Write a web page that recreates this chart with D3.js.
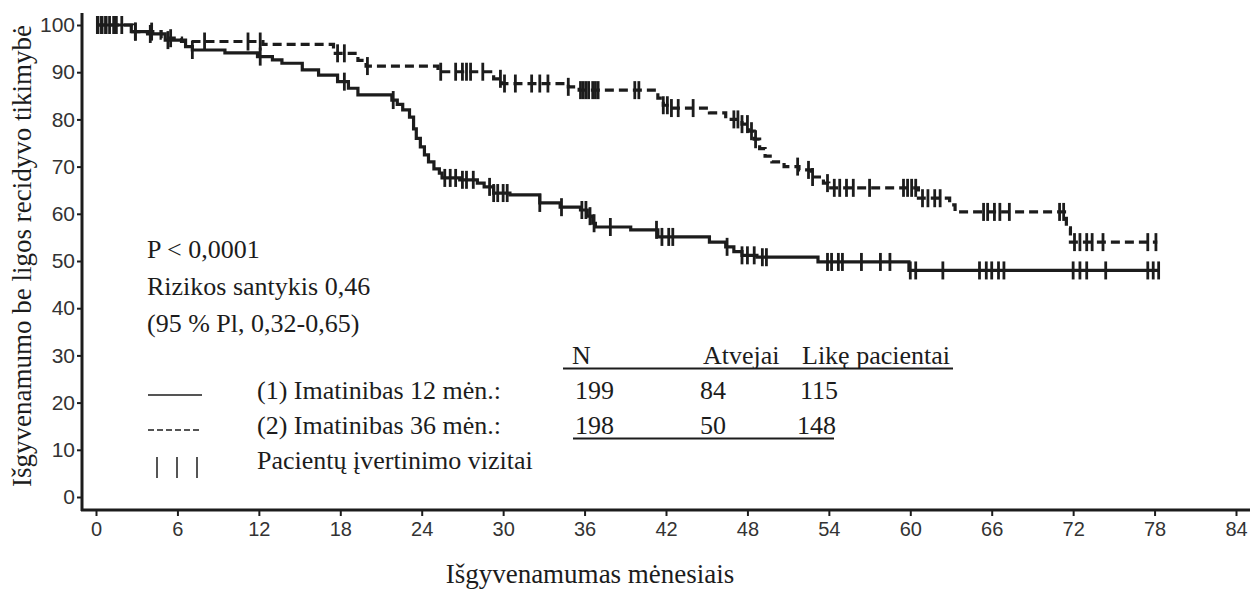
<!DOCTYPE html>
<html>
<head>
<meta charset="utf-8">
<script src="https://cdn.jsdelivr.net/npm/d3@7"></script>
<style>
  body { margin: 0; background: #fff; }
  svg { display: block; }
</style>
</head>
<body>
<svg id="chart" width="1252" height="591"></svg>
<script>
// step points [month, survival %]
var arm12Steps = [
  [0, 100], [2.6, 98.6], [3.8, 98.1], [5.1, 96.8], [6.6, 95.4], [7.1, 94.7], [9.5, 94.1],
  [11.9, 93.3], [13.0, 92.6], [13.7, 91.9], [15.2, 90.5], [16.4, 89.4], [17.8, 88.0],
  [18.6, 86.6], [19.3, 85.2], [21.8, 84.1], [22.2, 83.2], [22.6, 82.0], [23.1, 80.5],
  [23.4, 78.0], [23.6, 76.0], [23.9, 74.2], [24.2, 72.5], [24.5, 71.0], [24.9, 69.5],
  [25.3, 68.6], [25.5, 67.6], [26.8, 67.2], [28.1, 66.5], [28.6, 65.7], [29.3, 64.4],
  [30.5, 64.0], [32.7, 62.3], [34.2, 61.4], [35.7, 60.8], [36.2, 59.5], [36.6, 58.0],
  [36.8, 57.2], [39.4, 56.6], [41.4, 55.1], [45.2, 54.0], [46.4, 53.0], [47.0, 52.0],
  [47.6, 51.2], [48.7, 50.8], [53.2, 49.8], [59.9, 48.0], [78.4, 48.0]
];
var arm36Steps = [
  [0, 100], [2.7, 98.6], [4.8, 97.2], [6.3, 96.5], [12.3, 95.9], [17.5, 94.0], [19.3, 92.5],
  [19.9, 91.3], [25.2, 90.1], [29.3, 88.6], [29.9, 87.6], [34.8, 86.9], [35.6, 86.2],
  [41.4, 84.5], [41.8, 83.0], [42.3, 82.4], [45.2, 81.4], [46.4, 80.0], [47.6, 79.0],
  [48.1, 77.5], [48.5, 75.8], [48.9, 73.8], [49.3, 72.2], [49.8, 71.0], [50.7, 70.0],
  [51.8, 69.3], [52.7, 67.8], [53.6, 66.5], [54.0, 65.5], [60.6, 63.3], [62.9, 61.9],
  [63.3, 60.4], [71.5, 57.0], [71.8, 54.0], [78.2, 54.0]
];

// censored patients (visit marks), months
var arm12Censor = [0.1, 0.4, 0.7, 1.0, 1.3, 2.9, 4.0, 5.3, 7.1, 12.1, 18.3, 21.9, 25.7, 26.1,
  26.5, 27.0, 27.3, 27.8, 29.0, 29.3, 29.6, 30.0, 30.3, 32.7, 34.3, 35.8, 36.1, 36.4, 36.7,
  37.9, 41.3, 41.7, 42.2, 42.5, 46.5, 47.6, 48.0, 48.5, 49.1, 49.4, 53.9, 54.2, 54.7, 55.0,
  56.4, 57.8, 58.5, 60.0, 60.4, 62.4, 65.1, 65.6, 66.0, 66.5, 66.9, 72.0, 72.5, 73.0, 74.4,
  77.5, 77.9, 78.3];
var arm36Censor = [0.15, 0.45, 0.75, 1.5, 1.9, 2.9, 4.1, 5.5, 8.0, 11.2, 12.1, 17.8, 18.3,
  20.0, 25.4, 26.5, 27.0, 27.3, 27.6, 28.5, 29.8, 30.1, 30.9, 32.1, 32.7, 33.3, 34.8, 35.7,
  35.9, 36.1, 36.3, 36.6, 36.8, 37.0, 39.7, 40.0, 41.8, 42.1, 42.4, 42.9, 44.0, 47.0, 47.3,
  47.6, 48.0, 48.3, 48.6, 51.7, 52.5, 52.8, 53.9, 54.4, 54.8, 55.3, 55.8, 57.0, 59.5, 59.8,
  60.1, 60.4, 60.9, 61.3, 61.8, 62.2, 65.4, 65.7, 66.2, 66.6, 67.3, 71.0, 71.3, 72.1, 72.5,
  73.0, 73.4, 74.2, 77.5, 78.1];

var xTicks = [0, 6, 12, 18, 24, 30, 36, 42, 48, 54, 60, 66, 72, 78, 84];
var yTicks = [0, 10, 20, 30, 40, 50, 60, 70, 80, 90, 100];

var statsLines = ["P < 0,0001", "Rizikos santykis 0,46", "(95 % Pl, 0,32-0,65)"];
var tableHead = ["N", "Atvejai", "Likę pacientai"];
var tableRows = [
  { label: "(1) Imatinibas 12 mėn.:", vals: ["199", "84", "115"] },
  { label: "(2) Imatinibas 36 mėn.:", vals: ["198", "50", "148"] }
];

var ink = "#1c1c1c";
var serif = "'Liberation Serif', 'Times New Roman', serif";
var sans = "'Liberation Sans', Arial, sans-serif";

var svg = d3.select("#chart");
var x = d3.scaleLinear().domain([0, 84]).range([96, 1236]);
var y = d3.scaleLinear().domain([0, 100]).range([497, 25]);

function serifText(sel, size) {
  return sel.style("font-family", serif).style("font-size", size + "px").attr("fill", ink);
}

// axes
var xAxis = svg.append("g").attr("transform", "translate(0,510)")
  .call(d3.axisBottom(x).tickValues(xTicks).tickSize(6).tickPadding(6).tickSizeOuter(0));
var yAxis = svg.append("g").attr("transform", "translate(82,0)")
  .call(d3.axisLeft(y).tickValues(yTicks).tickSize(5).tickPadding(2).tickSizeOuter(0));
[xAxis, yAxis].forEach(function(g) {
  g.select(".domain").remove();
  g.selectAll(".tick line").attr("stroke", ink).attr("stroke-width", 2);
  g.selectAll(".tick text").attr("fill", "#333").style("font-family", sans);
});
xAxis.selectAll(".tick text").style("font-size", "20px");
yAxis.selectAll(".tick text").style("font-size", "21px");
svg.append("line").attr("x1", 82).attr("x2", 82).attr("y1", 13).attr("y2", 511)
  .attr("stroke", ink).attr("stroke-width", 3);
svg.append("line").attr("x1", 81).attr("x2", 1250).attr("y1", 510).attr("y2", 510)
  .attr("stroke", ink).attr("stroke-width", 3);

// axis titles
serifText(svg.append("text"), 27).attr("transform", "translate(22,256) rotate(-90)")
  .attr("text-anchor", "middle").attr("dominant-baseline", "central")
  .text("Išgyvenamumo be ligos recidyvo tikimybė");
serifText(svg.append("text"), 27).attr("x", 590).attr("y", 583).attr("text-anchor", "middle")
  .text("Išgyvenamumas mėnesiais");

// curves
var line = d3.line().x(function(d) { return x(d[0]); }).y(function(d) { return y(d[1]); })
  .curve(d3.curveStepAfter);

function survAt(steps, t) {
  var i = d3.bisector(function(d) { return d[0]; }).right(steps, t) - 1;
  return steps[Math.max(0, i)][1];
}

function drawArm(steps, censor, dash) {
  svg.append("path").datum(steps).attr("d", line).attr("fill", "none")
    .attr("stroke", ink).attr("stroke-width", 3.2)
    .attr("stroke-dasharray", dash);
  svg.append("g").selectAll("line").data(censor).join("line")
    .attr("x1", function(d) { return x(d); }).attr("x2", function(d) { return x(d); })
    .attr("y1", function(d) { return y(survAt(steps, d)) - 9; })
    .attr("y2", function(d) { return y(survAt(steps, d)) + 9; })
    .attr("stroke", ink).attr("stroke-width", 2.8);
}
drawArm(arm36Steps, arm36Censor, "9,5");
drawArm(arm12Steps, arm12Censor, null);

// stats text
serifText(svg.append("g").selectAll("text").data(statsLines).join("text"), 26)
  .attr("x", 147).attr("y", function(d, i) { return 258 + i * 37; })
  .text(function(d) { return d; });

// table
var colX = [572, 703, 802];
var valX = [575, 700, 800];
serifText(svg.append("g").selectAll("text").data(tableHead).join("text"), 26)
  .attr("x", function(d, i) { return colX[i]; }).attr("y", 364)
  .text(function(d) { return d; });
svg.append("line").attr("x1", 563).attr("x2", 953).attr("y1", 368.5).attr("y2", 368.5)
  .attr("stroke", ink).attr("stroke-width", 2);

tableRows.forEach(function(r, i) {
  var ty = 399 + i * 35;
  serifText(svg.append("text"), 26).attr("x", 257).attr("y", ty).text(r.label);
  r.vals.forEach(function(v, j) {
    serifText(svg.append("text"), 26).attr("x", valX[j] - (i == 1 && j == 2 ? 3 : 0))
      .attr("y", ty).text(v);
  });
});
svg.append("line").attr("x1", 573).attr("x2", 834).attr("y1", 438.5).attr("y2", 438.5)
  .attr("stroke", ink).attr("stroke-width", 2);

// legend swatches
svg.append("line").attr("x1", 148).attr("x2", 202).attr("y1", 395).attr("y2", 395)
  .attr("stroke", ink).attr("stroke-width", 1.5);
svg.append("line").attr("x1", 148).attr("x2", 202).attr("y1", 430).attr("y2", 430)
  .attr("stroke", ink).attr("stroke-width", 1.5).attr("stroke-dasharray", "6,3");
svg.append("g").selectAll("line").data([157, 177, 197]).join("line")
  .attr("x1", function(d) { return d; }).attr("x2", function(d) { return d; })
  .attr("y1", 457).attr("y2", 478).attr("stroke", ink).attr("stroke-width", 1.5);
serifText(svg.append("text"), 26).attr("x", 257).attr("y", 469)
  .text("Pacientų įvertinimo vizitai");
</script>
</body>
</html>
